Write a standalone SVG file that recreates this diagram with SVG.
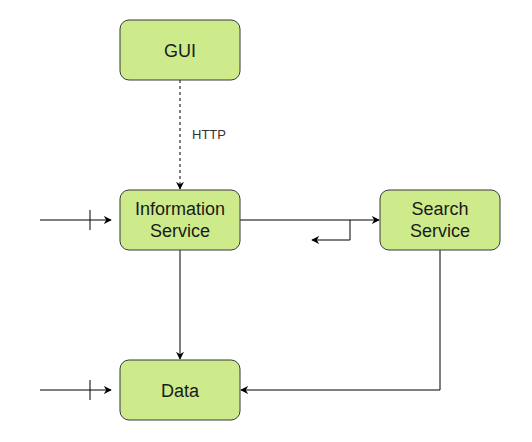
<svg xmlns="http://www.w3.org/2000/svg" width="532" height="442" viewBox="0 0 532 442">
<style>
.node{fill:#cdeb8b;stroke:#36393d;stroke-width:1}
.lbl{font-family:"Liberation Sans",Arial,sans-serif;font-size:18px;fill:#1a1a1a;text-anchor:middle}
.edge{fill:none;stroke:#000;stroke-width:1}
.elbl{font-family:"Liberation Sans",Arial,sans-serif;font-size:13px;fill:#333}
</style>
<defs>
<marker id="arr" viewBox="0 0 10 10" refX="9" refY="5" markerWidth="8" markerHeight="8" markerUnits="userSpaceOnUse" orient="auto">
<path d="M0,0 L10,5 L0,10 L3,5 Z" fill="#000"/>
</marker>
</defs>
<rect width="532" height="442" fill="#fff"/>
<g id="connectors">
<path class="edge" d="M180,80 L180,189" stroke-dasharray="3,3" marker-end="url(#arr)"/>
<text class="elbl" x="192" y="139">HTTP</text>
<path class="edge" d="M40,220 L111,220" marker-end="url(#arr)"/>
<path class="edge" d="M90,210 L90,230"/>
<path class="edge" d="M40,390 L111,390" marker-end="url(#arr)"/>
<path class="edge" d="M90,380 L90,400"/>
<path class="edge" d="M240,220 L379,220" marker-end="url(#arr)"/>
<path class="edge" d="M350,220 L350,240 L312,240" marker-end="url(#arr)"/>
<path class="edge" d="M180,250 L180,359" marker-end="url(#arr)"/>
<path class="edge" d="M440,250 L440,390 L241,390" marker-end="url(#arr)"/>
</g>
<g id="gui">
<rect class="node" x="120" y="20" width="120" height="60" rx="9"/>
<text class="lbl" x="180" y="56.5">GUI</text>
</g>
<g id="information-service">
<rect class="node" x="120" y="190" width="120" height="60" rx="9"/>
<text class="lbl" x="180" y="215">Information</text>
<text class="lbl" x="180" y="237">Service</text>
</g>
<g id="search-service">
<rect class="node" x="380" y="190" width="120" height="60" rx="9"/>
<text class="lbl" x="440" y="215">Search</text>
<text class="lbl" x="440" y="237">Service</text>
</g>
<g id="data">
<rect class="node" x="120" y="360" width="120" height="60" rx="9"/>
<text class="lbl" x="180" y="396.5">Data</text>
</g>
</svg>
